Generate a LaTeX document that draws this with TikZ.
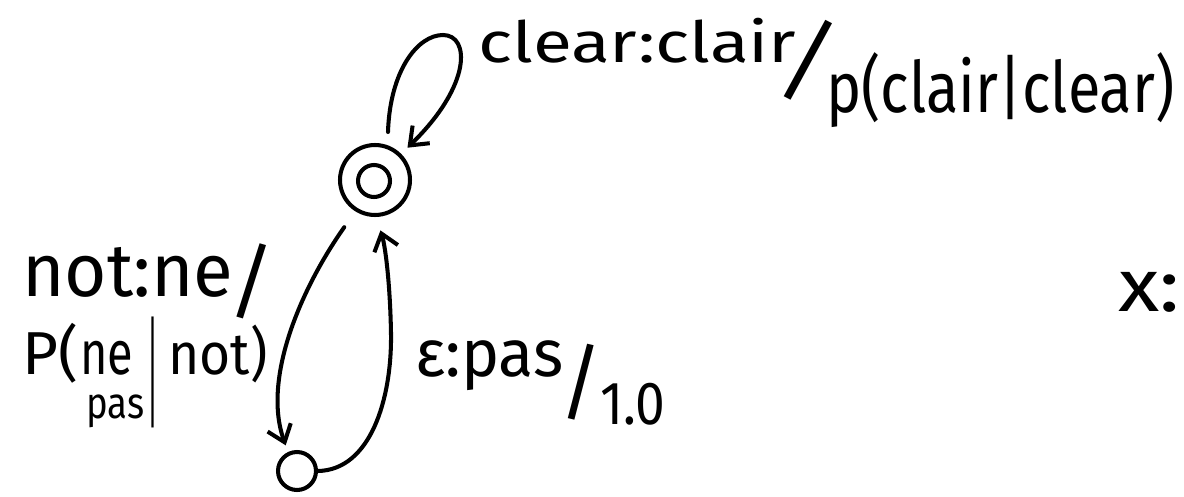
\documentclass[tikz,border=0pt]{standalone}
\usepackage{fontspec}
\setmainfont{Fira Sans}
\usepackage{graphicx}
\usetikzlibrary{arrows.meta}
\newlength\pxu
\setlength\pxu{0.02cm}
\newcommand\fitT[3]{\resizebox*{#1\pxu}{#2\pxu}{#3}}
\newcommand\fitH[2]{\resizebox*{!}{#1\pxu}{#2}}
\begin{document}
\begin{tikzpicture}[x=0.02cm,y=-0.02cm,
  ink/.style={line width=2.3pt, line cap=round, line join=round},
  arr/.style={ink, -{Straight Barb[length=9pt,width=14pt,line width=2.3pt]}},
  lbl/.style={anchor=north west, inner sep=0pt},
  slashlbl/.style={anchor=center, inner sep=0pt},
  stateO/.style={draw, ink, circle, inner sep=0pt}]
\useasboundingbox (0,0) rectangle (1184,497);
% states
\node[stateO, minimum size=1.4cm] (f) at (375,180) {};
\node[stateO, minimum size=0.64cm] (fi) at (374,181) {};
\node[stateO, minimum size=0.76cm] (b) at (297,471) {};
% self loop
\coordinate (ls) at (388,132);
\draw[arr, shorten >=5pt] (ls) .. controls (390,70) and (418,35) .. (443,35) .. controls (470,35) and (472,85) .. (f.45);
% f -> b
\draw[arr, shorten <=11pt, shorten >=4pt] (f.238) .. controls (300,290) and (262,380) .. (b.115);
% b -> f
\draw[arr, shorten >=8pt] (b.east) .. controls (370,470) and (392,400) .. (391,333) .. controls (390,280) and (385,245) .. (f.272);
% labels
\node[lbl] (l1) at (478,18) {\fitT{318}{45}{clear:clair}};
\node[slashlbl, rotate=-14] (s1) at (808,60) {\fitH{86}{/}};
\node[lbl] (l2) at (826,52) {\fitT{348}{75}{p(clair|clear)}};
\node[lbl] (l3) at (22,247) {\fitT{211}{50}{not:ne}};
\node[slashlbl, rotate=-3] (s2) at (252,281) {\fitH{76}{/}};
\node[lbl] (l4a) at (22,323) {\fitT{56}{60}{P(}};
\node[lbl] (l4b) at (80,341) {\fitT{53}{34}{ne}};
\node[lbl] (l4c) at (86,394) {\fitT{58}{33}{pas}};
\node[lbl] (l4d) at (147,317) {\fitT{11}{111}{|}};
\node[lbl] (l4e) at (168,325) {\fitT{99}{58}{not)}};
\node[lbl] (l5) at (415,340) {\fitT{148}{50}{ε:pas}};
\node[slashlbl] (s3) at (581,382) {\fitH{76}{/}};
\node[lbl] (l6) at (600,383) {\fitT{65}{42}{1.0}};
\node[lbl] (l7) at (1118,272) {\fitT{62}{40}{x:}};
\end{tikzpicture}
\end{document}
